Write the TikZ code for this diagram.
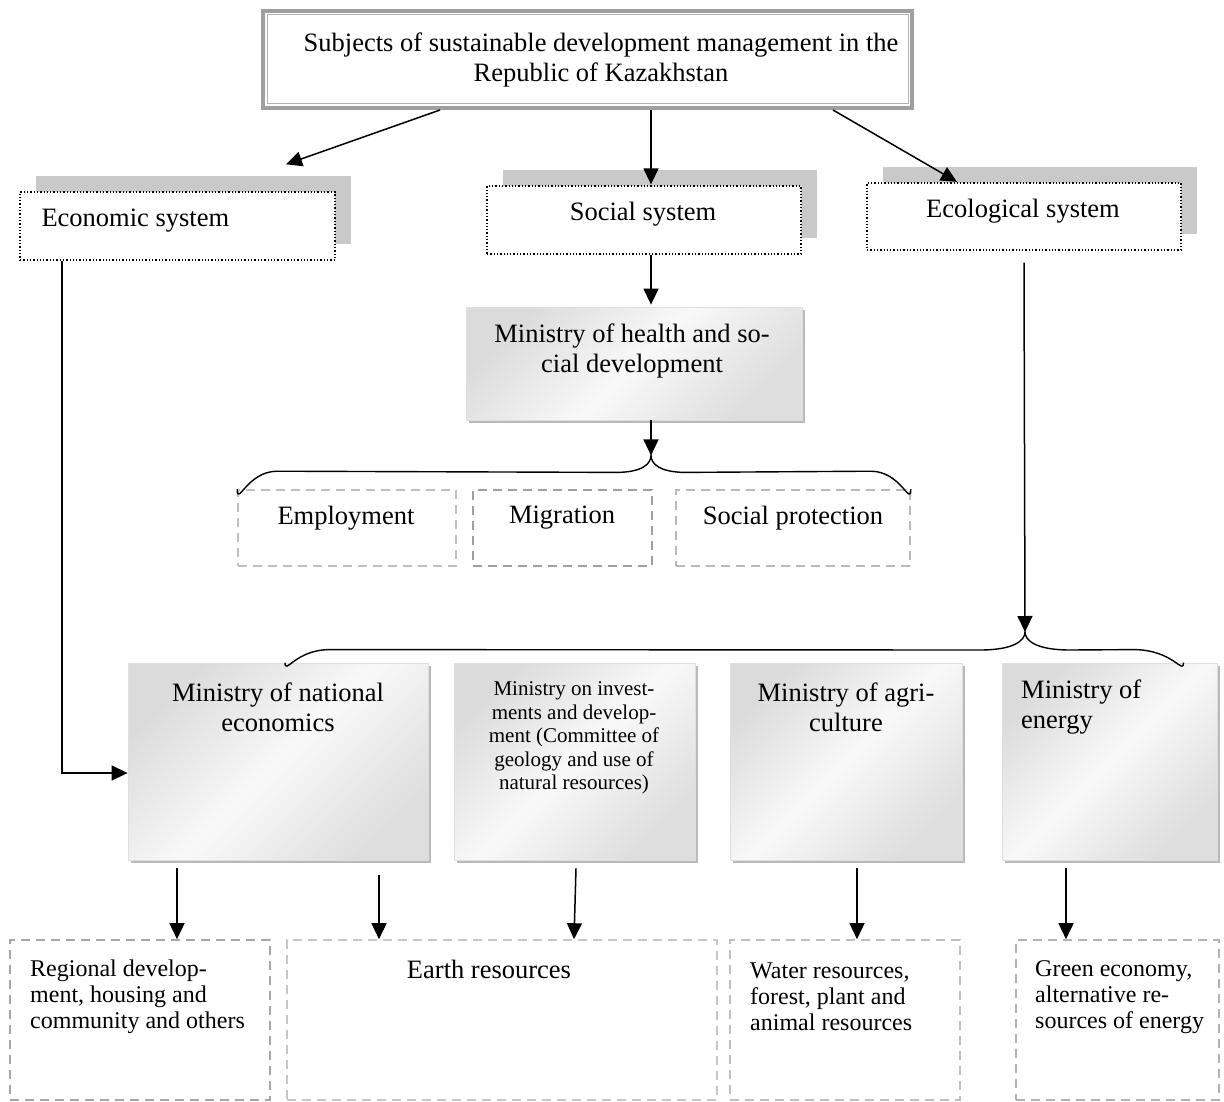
\documentclass[tikz,border=0pt]{standalone}
\usepackage{fontspec}
\setmainfont{Liberation Serif}
\usetikzlibrary{arrows.meta,shadows,calc}
\begin{document}
\begin{tikzpicture}[x=1pt,y=-1pt,
  arr/.style={line width=1.5pt,-{Triangle[length=16pt,width=15pt]}},
  sysbox/.style={draw=black,dotted,line width=1.3pt,fill=white,
    drop shadow={shadow xshift=16pt,shadow yshift=16pt,fill=gray!42,opacity=1}},
  minbox/.style={draw=gray!25,line width=0.8pt,shading=axis,
    left color=gray!28,right color=gray!26,middle color=gray!5,shading angle=45,
    drop shadow={shadow xshift=3pt,shadow yshift=-3pt,fill=gray!55,opacity=1}},
  dbox/.style={dashed,dash pattern=on 9pt off 6pt,line width=1.6pt},
  big/.style={font=\fontsize{26.5}{30}\selectfont,align=center},
  small/.style={font=\fontsize{24}{26}\selectfont,align=left},
  brace/.style={line width=1.4pt}
]
\useasboundingbox (0,0) rectangle (1224,1102);
\fill[white] (0,0) rectangle (1224,1102);

% top box
\node[draw=gray!75,line width=4pt,fill=white,minimum width=649pt,minimum height=97pt,inner sep=0] (top) at (587.5,59.5) {};
\draw[gray!60,line width=1pt] ([shift={(6,6)}]top.north west) rectangle ([shift={(-6,-6)}]top.south east);
\node[big] (topT) at (601,60) {Subjects of sustainable development management in the\\Republic of Kazakhstan};

% system boxes
\node[sysbox,minimum width=315pt,minimum height=68pt,inner sep=0] (eco) at (177.5,226) {};
\node[big,anchor=west] (ecoT) at (38,221) {Economic system};
\node[sysbox,minimum width=314pt,minimum height=68pt,inner sep=0] (soc) at (644,220) {};
\node[big] (socT) at (643,214) {Social system};
\node[sysbox,minimum width=314pt,minimum height=67pt,inner sep=0] (ecol) at (1024,216.5) {};
\node[big] (ecolT) at (1023,211) {Ecological system};

% health ministry
\node[minbox,minimum width=336pt,minimum height=113pt,inner sep=0] (health) at (634,363.5) {};
\node[big] (healthT) at (632,351) {Ministry of health and so-\\cial development};

% social sub boxes
\node[dbox,draw=gray!50,minimum width=218pt,minimum height=76pt,inner sep=0] (emp) at (347,528) {};
\node[big] (empT) at (346,518) {Employment};
\node[dbox,draw=gray!75,minimum width=179pt,minimum height=76pt,inner sep=0] (mig) at (562.5,528) {};
\node[big] (migT) at (562,518) {Migration};
\node[dbox,draw=gray!55,minimum width=234pt,minimum height=76pt,inner sep=0] (prot) at (793,528) {};
\node[big] (protT) at (793,518) {Social protection};

% ministries
\node[minbox,minimum width=300pt,minimum height=197pt,inner sep=0] (nat) at (278,761.5) {};
\node[big] (natT) at (278,707) {Ministry of national\\economics};
\node[minbox,minimum width=241pt,minimum height=197pt,inner sep=0] (inv) at (574.5,761.5) {};
\node[font=\fontsize{21}{23.5}\selectfont,align=center] (invT) at (574,738) {Ministry on invest-\\ments and develop-\\ment (Committee of\\geology and use of\\natural resources)};
\node[minbox,minimum width=232pt,minimum height=197pt,inner sep=0] (agr) at (846,761.5) {};
\node[big] (agrT) at (846,707) {Ministry of agri-\\culture};
\node[minbox,minimum width=215pt,minimum height=197pt,inner sep=0] (ene) at (1109.5,761.5) {};
\node[big,align=left,anchor=west,inner sep=0] (eneT) at (1021,707) {Ministry of\\energy};

% bottom boxes
\node[dbox,draw=gray!70,minimum width=260pt,minimum height=160pt,inner sep=0] (reg) at (140,1020) {};
\node[small,anchor=west,inner sep=0] (regT) at (30,997) {Regional develop-\\ment, housing and\\community and others};
\node[dbox,draw=gray!45,minimum width=430pt,minimum height=160pt,inner sep=0] (earth) at (502,1020) {};
\node[big] (earthT) at (489,969) {Earth resources};
\node[dbox,draw=gray!50,minimum width=230pt,minimum height=160pt,inner sep=0] (wat) at (845,1020) {};
\node[small,anchor=west,inner sep=0] (watT) at (750,997) {Water resources,\\forest, plant and\\animal resources};
\node[dbox,draw=gray!60,minimum width=203pt,minimum height=160pt,inner sep=0] (grn) at (1117.5,1020) {};
\node[small,anchor=west,inner sep=0] (grnT) at (1035,997) {Green economy,\\alternative re-\\sources of energy};

% arrows from top
\draw[arr] ([xshift=-147.5pt]top.south) -- ([shift={(108.5,-27)}]eco.north);
\draw[arr] ([xshift=63.5pt]top.south) -- ([shift={(7,-1)}]soc.north);
\draw[arr] ([xshift=245.5pt]top.south) -- ([shift={(-67,-0.5)}]ecol.north);

% social chain
\draw[arr] ([xshift=7pt]soc.south) -- ([shift={(17,-2)}]health.north);

% brace under health
\coordinate (htip) at ([shift={(17,35)}]health.south);
\draw[arr] ([xshift=17pt]health.south) -- (htip);
\draw[brace] (emp.north west) .. controls ([yshift=-18pt]emp.north west) and ([shift={(10,-18)}]emp.north west) .. ([shift={(40,-18)}]emp.north west)
  -- ([shift={(-35,17)}]htip) .. controls ([shift={(-8,17)}]htip) and ([shift={(0,8)}]htip) .. (htip)
  .. controls ([shift={(0,8)}]htip) and ([shift={(8,17)}]htip) .. ([shift={(35,17)}]htip)
  -- ([shift={(-40,-18)}]prot.north east) .. controls ([shift={(-10,-18)}]prot.north east) and ([yshift=-18pt]prot.north east) .. (prot.north east);

% ecological chain
\coordinate (etip) at (1025,632);
\draw[arr] ([shift={(0,12)}]ecol.south) -- (etip);
\coordinate (bl) at ([xshift=7pt]nat.north);
\coordinate (br) at ([xshift=-34pt]ene.north east);
\draw[brace] (bl) .. controls ([yshift=-13pt]bl) and ([shift={(10,-13)}]bl) .. ([shift={(45,-13)}]bl)
  -- ([shift={(-45,18)}]etip) .. controls ([shift={(-10,18)}]etip) and ([shift={(0,8)}]etip) .. (etip)
  .. controls ([shift={(0,8)}]etip) and ([shift={(10,18)}]etip) .. ([shift={(45,18)}]etip)
  -- ([shift={(-50,-13)}]br) .. controls ([shift={(-10,-13)}]br) and ([yshift=-13pt]br) .. (br);

% economic chain
\draw[arr] ([xshift=-115.5pt]eco.south) |- (nat.west |- 0,773);

% bottom arrows
\draw[arr] ([shift={(-101,8)}]nat.south) coordinate (a1) -- (a1 |- reg.north);
\draw[arr] ([shift={(101,15)}]nat.south) coordinate (a2) -- (a2 |- earth.north);
\draw[arr] ([shift={(1.5,8)}]inv.south) -- ([xshift=72pt]earth.north);
\draw[arr] ([shift={(11,8)}]agr.south) coordinate (a4) -- (a4 |- wat.north);
\draw[arr] ([shift={(-43.5,8)}]ene.south) coordinate (a5) -- (a5 |- grn.north);
\end{tikzpicture}
\end{document}
